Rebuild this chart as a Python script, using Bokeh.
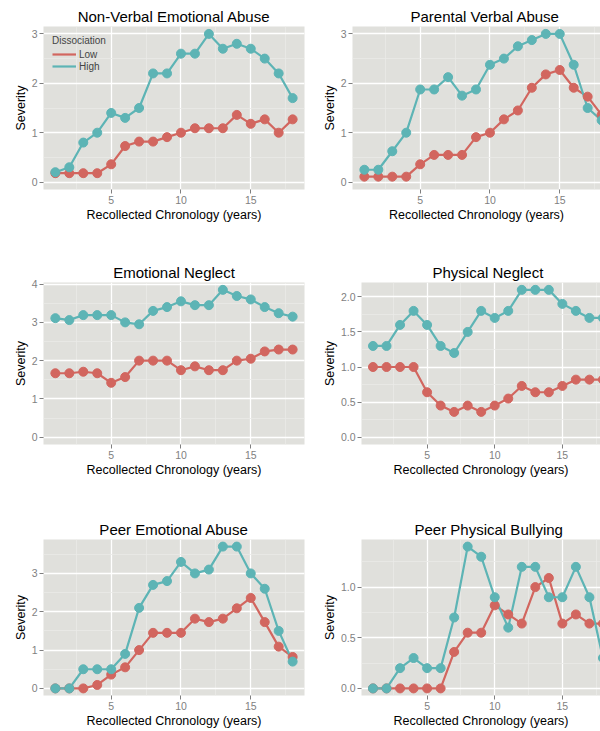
from bokeh.plotting import figure
from bokeh.layouts import column, row
from bokeh.models import FixedTicker, Range1d
from bokeh.embed import file_html
from bokeh.resources import INLINE

# ---------------- data ----------------
years = list(range(1, 19))
x_ticks = [5, 10, 15]
x_minor = [2.5, 7.5, 12.5, 17.5]

nvea_low = [0.18, 0.18, 0.18, 0.18, 0.36, 0.73, 0.82, 0.82, 0.91, 1.00, 1.09, 1.09, 1.09, 1.36, 1.18, 1.27, 1.00, 1.27]
nvea_high = [0.2, 0.3, 0.8, 1.0, 1.4, 1.3, 1.5, 2.2, 2.2, 2.6, 2.6, 3.0, 2.7, 2.8, 2.7, 2.5, 2.2, 1.7]

pva_low = [0.11, 0.11, 0.11, 0.11, 0.36, 0.55, 0.55, 0.55, 0.91, 1.00, 1.27, 1.45, 1.91, 2.18, 2.27, 1.91, 1.73, 1.36]
pva_high = [0.25, 0.25, 0.625, 1.0, 1.875, 1.875, 2.125, 1.75, 1.875, 2.375, 2.5, 2.75, 2.875, 3.0, 3.0, 2.375, 1.5, 1.25]

en_low = [1.67, 1.67, 1.71, 1.67, 1.42, 1.57, 2.0, 2.0, 2.0, 1.75, 1.85, 1.75, 1.75, 2.0, 2.05, 2.24, 2.29, 2.29]
en_high = [3.11, 3.06, 3.19, 3.19, 3.19, 3.0, 2.95, 3.30, 3.40, 3.55, 3.45, 3.45, 3.85, 3.69, 3.60, 3.40, 3.24, 3.15]

pn_low = [1.0, 1.0, 1.0, 1.0, 0.64, 0.45, 0.36, 0.45, 0.36, 0.45, 0.55, 0.73, 0.64, 0.64, 0.73, 0.82, 0.82, 0.82]
pn_high = [1.3, 1.3, 1.6, 1.8, 1.6, 1.3, 1.2, 1.5, 1.8, 1.7, 1.8, 2.1, 2.1, 2.1, 1.9, 1.8, 1.7, 1.7]

pea_low = [0, 0, 0, 0.09, 0.36, 0.55, 1.0, 1.45, 1.45, 1.45, 1.82, 1.73, 1.82, 2.09, 2.36, 1.73, 1.09, 0.82]
pea_high = [0, 0, 0.5, 0.5, 0.5, 0.9, 2.1, 2.7, 2.8, 3.3, 3.0, 3.1, 3.7, 3.7, 3.0, 2.6, 1.5, 0.7]

ppb_low = [0, 0, 0, 0, 0, 0, 0.36, 0.55, 0.55, 0.82, 0.73, 0.64, 1.0, 1.09, 0.64, 0.73, 0.64, 0.64]
ppb_high = [0, 0, 0.2, 0.3, 0.2, 0.2, 0.7, 1.4, 1.3, 0.9, 0.6, 1.2, 1.2, 0.9, 0.9, 1.2, 0.9, 0.3]

ticks_int3 = [0, 1, 2, 3]
labels_int3 = ["0", "1", "2", "3"]
ticks_int4 = [0, 1, 2, 3, 4]
labels_int4 = ["0", "1", "2", "3", "4"]
ticks_pn = [0, 0.5, 1.0, 1.5, 2.0]
labels_pn = ["0.0", "0.5", "1.0", "1.5", "2.0"]
ticks_ppb = [0, 0.5, 1.0]
labels_ppb = ["0.0", "0.5", "1.0"]

series_names = ["Low", "High"]
legend_title = "Dissociation"
x_label = "Recollected Chronology (years)"
y_label = "Severity"

# ---------------- style ----------------
RED = "#D2665F"
TEAL = "#5DB4B5"
BG = "#E0E0DC"
MINOR = "#EAEAE7"
TICKC = "#7F7F7F"
FONT = "Liberation Sans"


def panel(title, low, high, yticks, ylabels, w, h, bl, br, bt, bb, xend, align, toff, legend=False):
    ymax = max(max(low), max(high))
    x0 = years[0] - 0.05 * (years[-1] - years[0])
    p = figure(width=w, height=h, x_range=Range1d(x0, xend),
               y_range=Range1d(-0.05 * ymax, 1.05 * ymax),
               output_backend="svg", toolbar_location=None,
               min_border_left=bl, min_border_right=br,
               min_border_top=bt, min_border_bottom=bb,
               background_fill_color=BG, border_fill_color="white",
               outline_line_color=None)
    p.title.text = title
    p.title.text_font = FONT
    p.title.text_font_size = "15px"
    p.title.text_font_style = "normal"
    p.title.text_color = "black"
    p.title.align = align
    p.title.offset = toff
    p.title.standoff = 3

    step = yticks[1] - yticks[0]
    yminor = [t + step / 2 for t in yticks]
    xt = FixedTicker(ticks=x_ticks, minor_ticks=x_minor)
    yt = FixedTicker(ticks=yticks, minor_ticks=yminor)
    p.xaxis.ticker = xt
    p.yaxis.ticker = yt
    p.xgrid.ticker = xt
    p.ygrid.ticker = yt
    p.yaxis.major_label_overrides = {t: l for t, l in zip(yticks, ylabels)}

    for ax in (p.xaxis[0], p.yaxis[0]):
        ax.axis_line_color = None
        ax.major_tick_line_color = TICKC
        ax.major_tick_line_width = 1
        ax.major_tick_out = 4
        ax.major_tick_in = 0
        ax.minor_tick_line_color = None
        ax.major_label_text_color = TICKC
        ax.major_label_text_font = FONT
        ax.major_label_text_font_size = "10.5px"
        ax.axis_label_text_font = FONT
        ax.axis_label_text_font_size = "12.5px"
        ax.axis_label_text_font_style = "normal"
        ax.axis_label_text_color = "black"
        ax.major_label_standoff = 2
        ax.axis_label_standoff = 1
    p.xaxis.axis_label = x_label
    p.yaxis.axis_label = y_label

    for g in (p.xgrid[0], p.ygrid[0]):
        g.grid_line_color = "white"
        g.grid_line_width = 1.3
        g.minor_grid_line_color = MINOR
        g.minor_grid_line_width = 0.8

    if legend:
        p.line(years, low, color=RED, line_width=2.2, legend_label=series_names[0])
        p.line(years, high, color=TEAL, line_width=2.2, legend_label=series_names[1])
    else:
        p.line(years, low, color=RED, line_width=2.2)
        p.line(years, high, color=TEAL, line_width=2.2)
    p.scatter(years, low, size=9, color=RED)
    p.scatter(years, high, size=9, color=TEAL)

    if legend:
        lg = p.legend[0]
        lg.title = legend_title
        lg.location = "top_left"
        lg.background_fill_alpha = 0
        lg.border_line_color = None
        lg.padding = 0
        lg.margin = 9
        lg.spacing = 0
        lg.label_height = 12
        lg.glyph_height = 12
        lg.glyph_width = 24
        lg.label_standoff = 3
        lg.title_standoff = 2
        lg.label_text_font = FONT
        lg.title_text_font = FONT
        lg.label_text_font_size = "10px"
        lg.title_text_font_size = "10px"
        lg.title_text_font_style = "normal"
    return p


LW, RW = 312, 288
p1 = panel("Non-Verbal Emotional Abuse", nvea_low, nvea_high, ticks_int3, labels_int3,
           LW, 260, 43, 8, 26, 71, 18.85, "center", 0, legend=True)
p2 = panel("Parental Verbal Abuse", pva_low, pva_high, ticks_int3, labels_int3,
           RW, 260, 40, 0, 26, 71, 17.92, "left", 58)
p3 = panel("Emotional Neglect", en_low, en_high, ticks_int4, labels_int4,
           LW, 257, 43, 8, 18, 73, 18.85, "center", 0)
p4 = panel("Physical Neglect", pn_low, pn_high, ticks_pn, labels_pn,
           RW, 257, 49, 0, 18, 73, 17.82, "left", 71)
p5 = panel("Peer Emotional Abuse", pea_low, pea_high, ticks_int3, labels_int3,
           LW, 213, 43, 8, 19, 30, 18.85, "center", 0)
p6 = panel("Peer Physical Bullying", ppb_low, ppb_high, ticks_ppb, labels_ppb,
           RW, 213, 49, 0, 19, 30, 17.82, "left", 53)

layout = column(row(p1, p2), row(p3, p4), row(p5, p6))
open("out.html", "w").write(file_html(layout, INLINE))
